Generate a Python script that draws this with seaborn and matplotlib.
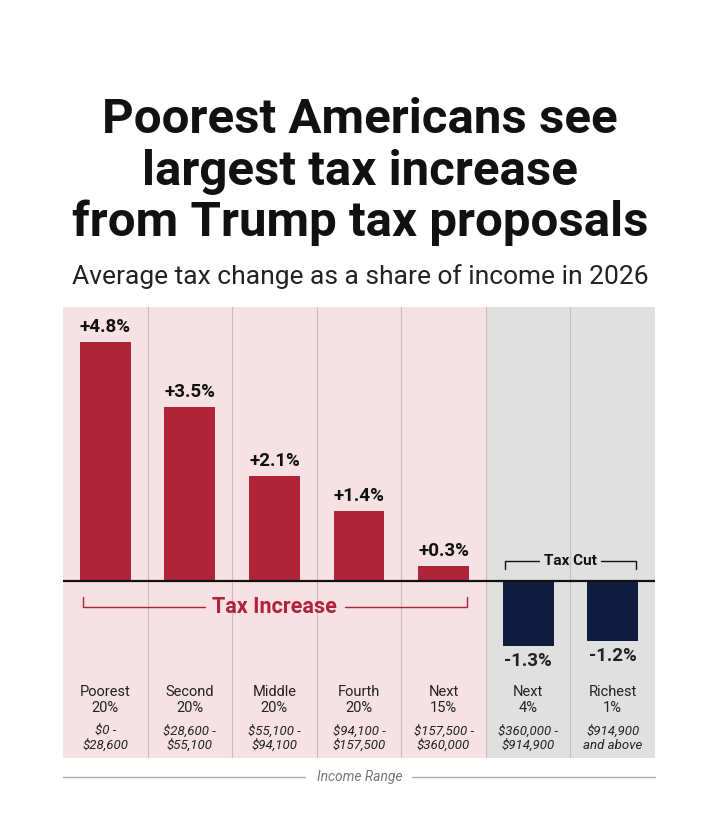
import matplotlib
matplotlib.use("Agg")
import matplotlib.pyplot as plt
import seaborn as sns
import pandas as pd

groups = ["Poorest\n20%", "Second\n20%", "Middle\n20%", "Fourth\n20%", "Next\n15%", "Next\n4%", "Richest\n1%"]
ranges = ["$0 -\n$28,600", "$28,600 -\n$55,100", "$55,100 -\n$94,100", "$94,100 -\n$157,500",
          "$157,500 -\n$360,000", "$360,000 -\n$914,900", "$914,900\nand above"]
values = [4.8, 3.5, 2.1, 1.4, 0.3, -1.3, -1.2]
value_labels = ["+4.8%", "+3.5%", "+2.1%", "+1.4%", "+0.3%", "-1.3%", "-1.2%"]
kind = ["Increase"] * 5 + ["Cut"] * 2

RED = "#b0243a"
NAVY = "#0f1c3d"
PINK = "#f6e1e4"
GRAY = "#e0e0e0"

sns.set_theme(style="white")
plt.rcParams["font.family"] = ["Roboto", "DejaVu Sans"]

df = pd.DataFrame({"group": groups, "value": values, "kind": kind})

fig = plt.figure(figsize=(7.2, 8.24), dpi=100)
ax = fig.add_axes([0.0875, 0.0801, 0.8222, 0.5473])

# background columns
for i, k in enumerate(kind):
    ax.axvspan(i - 0.5, i + 0.5, color=PINK if k == "Increase" else GRAY, zorder=0, lw=0)
for i in range(1, len(groups)):
    ax.axvline(i - 0.5, color="#c8bcbf", lw=0.8, zorder=1)

sns.barplot(data=df, x="group", y="value", hue="kind", palette={"Increase": RED, "Cut": NAVY},
            width=0.6, dodge=False, legend=False, ax=ax, zorder=2, saturation=1, linewidth=0)

ax.set_xlim(-0.5, 6.5)
ax.set_ylim(-3.55, 5.5)
ax.axhline(0, color="#111111", lw=1.6, zorder=3)

for i, (v, lab) in enumerate(zip(values, value_labels)):
    if v > 0:
        ax.text(i, v + 0.12, lab, ha="center", va="bottom", fontsize=13.5, fontweight="bold", color="#111111")
    else:
        ax.text(i, v - 0.12, lab, ha="center", va="top", fontsize=13.5, fontweight="bold", color="#222222")
    ax.text(i, -2.38, groups[i], ha="center", va="center", fontsize=10.5, color="#222222", linespacing=1.15)
    ax.text(i, -3.15, ranges[i], ha="center", va="center", fontsize=9.5, style="italic", color="#222222",
            linespacing=1.15)

# Tax Increase bracket
yb = -0.52
ax.plot([-0.26, -0.26, 1.18], [yb + 0.2, yb, yb], color=RED, lw=1.0, zorder=3)
ax.plot([2.83, 4.28, 4.28], [yb, yb, yb + 0.2], color=RED, lw=1.0, zorder=3)
ax.text(2.0, yb, "Tax Increase", ha="center", va="center", fontsize=15.5, fontweight="bold", color=RED)

# Tax Cut bracket
yc = 0.4
ax.plot([4.73, 4.73, 5.13], [yc - 0.15, yc, yc], color="#111111", lw=1.0, zorder=3)
ax.plot([5.86, 6.28, 6.28], [yc, yc, yc - 0.15], color="#111111", lw=1.0, zorder=3)
ax.text(5.5, yc, "Tax Cut", ha="center", va="center", fontsize=11, fontweight="bold", color="#111111")

ax.set_xticks([])
ax.set_yticks([])
ax.set_xlabel("")
ax.set_ylabel("")
for s in ax.spines.values():
    s.set_visible(False)

# Titles
for txt, ypx in [("Poorest Americans see", 120), ("largest tax increase", 172), ("from Trump tax proposals", 223)]:
    fig.text(0.5, 1 - ypx / 824, txt, ha="center", va="center", fontsize=35.5, fontweight="bold", color="#111111")
fig.text(0.5, 1 - 277 / 824, "Average tax change as a share of income in 2026", ha="center", va="center",
         fontsize=19, color="#222222")

# Income Range footer
fy = 1 - 777 / 824
fig.text(0.5, fy, "Income Range", ha="center", va="center", fontsize=10, style="italic", color="#777777")
fig.add_artist(plt.Line2D([63 / 720, 305 / 720], [fy, fy], color="#aaaaaa", lw=1.0))
fig.add_artist(plt.Line2D([412 / 720, 655 / 720], [fy, fy], color="#aaaaaa", lw=1.0))

fig.savefig("out.png", dpi=100, facecolor="white")
